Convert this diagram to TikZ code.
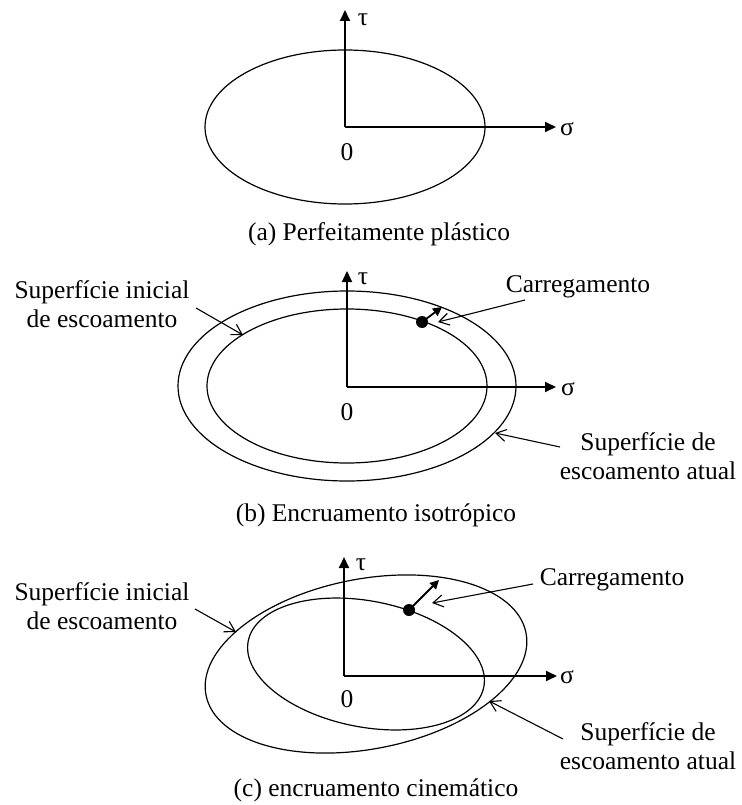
\documentclass[tikz,border=0pt]{standalone}
\usepackage{fontspec}
\setmainfont{Liberation Serif}
\usetikzlibrary{arrows.meta}
\begin{document}
\begin{tikzpicture}[x=1pt,y=-1pt,
  curve/.style={line width=1.2pt},
  axis/.style={line width=1.8pt,-{Triangle[length=11pt,width=10pt]}},
  load/.style={line width=1.8pt,-{Triangle[length=9pt,width=9pt]}},
  pointer/.style={line width=1.1pt,-{Straight Barb[length=10pt,width=12pt,line width=1.1pt]}},
  lbl/.style={inner sep=0pt,font=\fontsize{25.5}{29}\selectfont},
  twoline/.style={lbl,align=center},
  dot/.style={circle,fill=black,inner sep=0pt,minimum size=12pt}]
\useasboundingbox (0,0) rectangle (741,805);

% ---------- (a) perfectly plastic ----------
\coordinate (Oa) at (345,127);
\coordinate (Ta) at (345,10);
\coordinate (Sa) at (556,127);
\draw[curve] (Oa) ellipse [x radius=140, y radius=77];
\draw[axis] (Oa) -- (Ta);
\draw[axis] (Oa) -- (Sa);
\node[lbl] (tauA) at (363,20) {τ};
\node[lbl] (sigA) at (567,129) {σ};
\node[lbl] (zeroA) at (347,152) {0};
\node[lbl] (capA) at (379,234) {(a) Perfeitamente plástico};

% ---------- (b) isotropic hardening ----------
\coordinate (Ob) at (347,387);
\coordinate (Tb) at (347,271);
\coordinate (Sb) at (556,387);
\draw[curve] (347,386) ellipse [x radius=140, y radius=77];
\draw[curve] (347,386) ellipse [x radius=169, y radius=95];
\draw[axis] (Ob) -- (Tb);
\draw[axis] (Ob) -- (Sb);
\node[lbl] (tauB) at (363,279) {τ};
\node[lbl] (sigB) at (568,389) {σ};
\node[lbl] (zeroB) at (347,412) {0};
\node[dot] (dotB) at (422,322) {};
\coordinate (loadB) at (442,307);
\draw[load] (dotB.center) -- (loadB);
\node[lbl] (carB) at (578,287) {Carregamento};
\coordinate (carBs) at (525,300);
\coordinate (carBt) at (438,322);
\draw[pointer] (carBs) -- (carBt);
\node[twoline] (iniB) at (102,304) {Superfície inicial\\de escoamento};
\coordinate (iniBs) at (196,308);
\coordinate (iniBt) at (243,335);
\draw[pointer] (iniBs) -- (iniBt);
\node[twoline] (atuB) at (648,456) {Superfície de\\escoamento atual};
\coordinate (atuBs) at (560,447);
\coordinate (atuBt) at (495,433);
\draw[pointer] (atuBs) -- (atuBt);
\node[lbl] (capB) at (376,515) {(b) Encruamento isotrópico};

% ---------- (c) kinematic hardening ----------
\coordinate (Oc) at (344,676);
\coordinate (Tc) at (344,557);
\coordinate (Sc) at (557,676);
\draw[curve, rotate around={-11:(366,664)}] (366,664) ellipse [x radius=120, y radius=63];
\draw[curve, rotate around={11:(366,664)}] (366,664) ellipse [x radius=163, y radius=85];
\draw[axis] (Oc) -- (Tc);
\draw[axis] (Oc) -- (Sc);
\node[lbl] (tauC) at (361,565) {τ};
\node[lbl] (sigC) at (567,677) {σ};
\node[lbl] (zeroC) at (347,699) {0};
\node[dot] (dotC) at (409,610) {};
\coordinate (loadC) at (439,580);
\draw[load] (dotC.center) -- (loadC);
\node[lbl] (carC) at (612,580) {Carregamento};
\coordinate (carCs) at (533,584);
\coordinate (carCt) at (432,603);
\draw[pointer] (carCs) -- (carCt);
\node[twoline] (iniC) at (102,606) {Superfície inicial\\de escoamento};
\coordinate (iniCs) at (195,609);
\coordinate (iniCt) at (236,632);
\draw[pointer] (iniCs) -- (iniCt);
\node[twoline] (atuC) at (648,746) {Superfície de\\escoamento atual};
\coordinate (atuCs) at (563,739);
\coordinate (atuCt) at (489,701);
\draw[pointer] (atuCs) -- (atuCt);
\node[lbl] (capC) at (376,790) {(c) encruamento cinemático};
\end{tikzpicture}
\end{document}
